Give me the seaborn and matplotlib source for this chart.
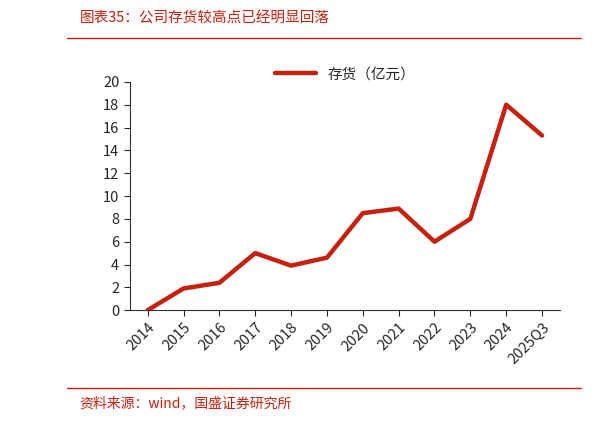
import matplotlib
matplotlib.use("Agg")
import matplotlib.pyplot as plt
import seaborn as sns
import pandas as pd

years = ["2014", "2015", "2016", "2017", "2018", "2019", "2020", "2021", "2022", "2023", "2024", "2025Q3"]
inventory = [0.0, 1.9, 2.4, 5.0, 3.9, 4.6, 8.5, 8.9, 6.0, 8.0, 18.0, 15.3]

sns.set_style("white")
plt.rcParams["font.family"] = ["Noto Sans CJK SC", "DejaVu Sans"]

red = "#C8200E"
df = pd.DataFrame({"x": range(len(years)), "v": inventory})

fig = plt.figure(figsize=(6.12, 4.22), dpi=100)
ax = fig.add_axes([0.212, 0.265, 0.703, 0.541])
sns.lineplot(data=df, x="x", y="v", ax=ax, color=red, linewidth=3.2, label="存货（亿元）")

ax.set_xlim(-0.5, len(years) - 0.5)
ax.set_ylim(0, 20)
ax.set_yticks(range(0, 21, 2))
ax.set_xticks(range(len(years)))
ax.set_xticklabels(years, rotation=45, ha="right", rotation_mode="anchor", fontsize=10.5)
ax.tick_params(axis="y", labelsize=10.5, length=4, direction="out", left=True)
ax.tick_params(axis="x", length=4, direction="out", bottom=True)
ax.set_xlabel("")
ax.set_ylabel("")
for s in ["top", "right"]:
    ax.spines[s].set_visible(False)
for s in ["left", "bottom"]:
    ax.spines[s].set_color("#333333")
    ax.spines[s].set_linewidth(0.8)

ax.legend(loc="upper center", bbox_to_anchor=(0.5, 1.12), frameon=False, fontsize=10.5, handlelength=2.8)

fig.text(0.13, 0.955, "图表35：公司存货较高点已经明显回落", color=red, fontsize=10.5, style="italic", va="center")
fig.add_artist(plt.Line2D([0.11, 0.95], [0.91, 0.91], color=red, linewidth=1))
fig.add_artist(plt.Line2D([0.11, 0.95], [0.08, 0.08], color=red, linewidth=1))
fig.text(0.13, 0.045, "资料来源：wind，国盛证券研究所", color=red, fontsize=10, style="italic", va="center")

fig.savefig("out.png", dpi=100)
